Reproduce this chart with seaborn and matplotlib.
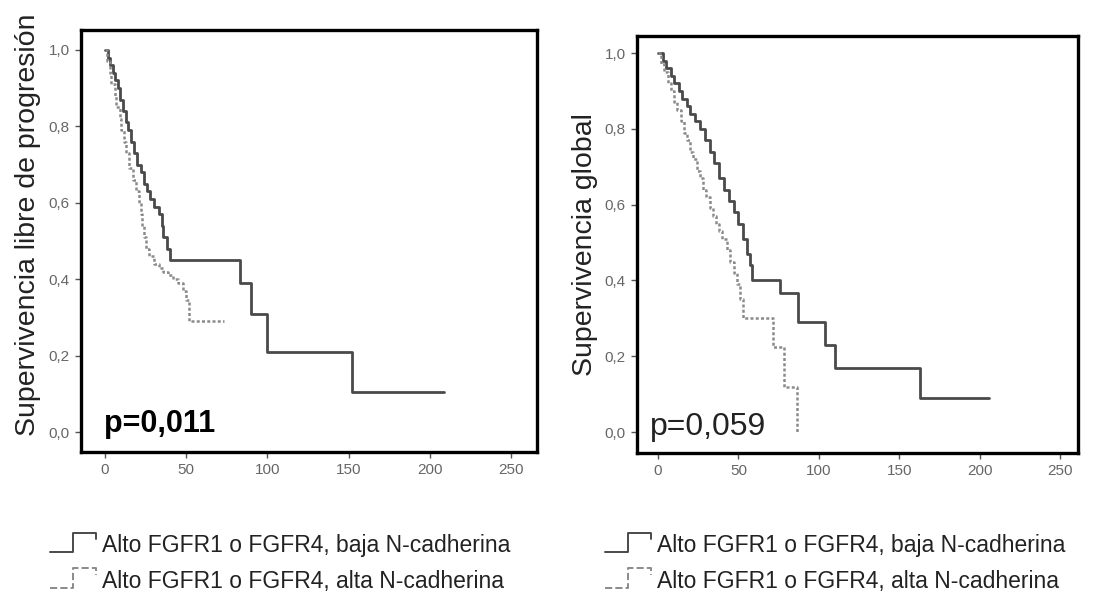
import matplotlib
matplotlib.use("Agg")
import matplotlib.pyplot as plt
import seaborn as sns
import pandas as pd
from matplotlib.lines import Line2D
from matplotlib.legend_handler import HandlerBase
from matplotlib.ticker import FuncFormatter

# Curvas de Kaplan-Meier (tiempo, supervivencia)
# Supervivencia libre de progresión
slp_baja_t = [0, 2, 3, 5, 6, 8, 9, 11, 13, 14, 16, 18, 20, 22, 24, 26, 28, 30, 33, 35, 36, 38, 40,
              83, 90, 100, 152, 209]
slp_baja_s = [1.0, 0.98, 0.96, 0.94, 0.92, 0.90, 0.87, 0.84, 0.81, 0.79, 0.76, 0.73, 0.70, 0.68, 0.65,
              0.63, 0.61, 0.59, 0.57, 0.54, 0.51, 0.48, 0.45, 0.39, 0.31, 0.21, 0.105, 0.105]
slp_alta_t = [0, 1, 3, 4, 6, 7, 9, 10, 12, 13, 15, 17, 19, 21, 22, 23, 24, 25, 27, 30, 33, 36, 39,
              42, 45, 48, 50, 52, 73]
slp_alta_s = [1.0, 0.97, 0.94, 0.91, 0.88, 0.85, 0.82, 0.79, 0.76, 0.73, 0.69, 0.66, 0.63, 0.60, 0.57,
              0.54, 0.51, 0.48, 0.46, 0.44, 0.43, 0.42, 0.41, 0.40, 0.39, 0.37, 0.345, 0.29, 0.29]

# Supervivencia global
sg_baja_t = [0, 3, 5, 8, 10, 13, 15, 18, 20, 23, 26, 29, 32, 35, 38, 41, 44, 47, 50, 53, 55, 57, 58.5,
             76, 87, 104, 110, 163, 206]
sg_baja_s = [1.0, 0.98, 0.96, 0.94, 0.92, 0.90, 0.88, 0.86, 0.84, 0.82, 0.80, 0.77, 0.74, 0.71, 0.67,
             0.64, 0.61, 0.58, 0.55, 0.51, 0.47, 0.44, 0.40, 0.367, 0.29, 0.23, 0.17, 0.09, 0.09]
sg_alta_t = [0, 2, 4, 6, 8, 10, 12, 14, 16, 18, 20, 22, 24, 26, 28, 30, 32, 34, 36, 38, 40, 43, 45,
             47, 49, 51, 53, 71.5, 78, 86.5]
sg_alta_s = [1.0, 0.97, 0.95, 0.92, 0.90, 0.87, 0.85, 0.82, 0.79, 0.77, 0.74, 0.72, 0.69, 0.67, 0.64,
             0.62, 0.59, 0.57, 0.55, 0.53, 0.51, 0.48, 0.45, 0.42, 0.39, 0.35, 0.30, 0.225, 0.12, 0.0]

etiquetas = ["Alto FGFR1 o FGFR4, baja N-cadherina", "Alto FGFR1 o FGFR4, alta N-cadherina"]
x_ticks = [0, 50, 100, 150, 200, 250]
y_ticks = [0.0, 0.2, 0.4, 0.6, 0.8, 1.0]

sns.set_style("white")
plt.rcParams['font.family'] = ['Liberation Sans', 'DejaVu Sans']

estilo_baja = dict(color='#4a4a4a', linewidth=2.0, linestyle='-')
estilo_alta = dict(color='#8a8a8a', linewidth=1.8, linestyle=(0, (1.2, 0.9)))


# Símbolo de leyenda con forma de escalón, como en la figura original
class HandlerEscalon(HandlerBase):
    def create_artists(self, legend, orig_handle, xdescent, ydescent, width, height, fontsize, trans):
        x0, y0 = -xdescent, -ydescent
        xs = [x0, x0 + 0.5 * width, x0 + 0.5 * width, x0 + width, x0 + width]
        ys = [y0, y0, y0 + 1.2 * height, y0 + 1.2 * height, y0 + 0.8 * height]
        linea = Line2D(xs, ys, color=orig_handle.get_color(), linewidth=1.4,
                       linestyle=orig_handle.get_linestyle(), transform=trans)
        return [linea]


fig = plt.figure(figsize=(11.12, 6.01), dpi=100)
ax1 = fig.add_axes([0.0728, 0.2479, 0.4101, 0.7022])
ax2 = fig.add_axes([0.5728, 0.2463, 0.3966, 0.6938])


def curva(ax, t, s, estilo):
    df = pd.DataFrame({'t': t, 's': s})
    sns.lineplot(data=df, x='t', y='s', ax=ax, estimator=None, sort=False,
                 drawstyle='steps-post', **estilo)


def formato(ax, xlim, ylim, ylabel, label_y):
    ax.set_xlim(*xlim)
    ax.set_ylim(*ylim)
    ax.set_xticks(x_ticks)
    ax.set_yticks(y_ticks)
    ax.yaxis.set_major_formatter(FuncFormatter(lambda v, p: f"{v:.1f}".replace('.', ',')))
    ax.tick_params(axis='both', which='major', direction='out', length=4, width=1,
                   color='#555555', labelsize=11, labelcolor='#666666', pad=4,
                   bottom=True, left=True)
    for sp in ax.spines.values():
        sp.set_visible(True)
        sp.set_color('black')
        sp.set_linewidth(2.4)
    ax.set_xlabel('')
    ax.set_ylabel(ylabel, fontsize=20.5, color='#222222')
    ax.yaxis.set_label_coords(-0.088, label_y)


curva(ax1, slp_baja_t, slp_baja_s, estilo_baja)
curva(ax1, slp_alta_t, slp_alta_s, estilo_alta)
formato(ax1, (-14.8, 266), (-0.052, 1.052), 'Supervivencia libre de progresión', 0.538)
ax1.text(0.05, 0.03, 'p=0,011', transform=ax1.transAxes, fontsize=22, fontweight='bold',
         ha='left', va='bottom', color='black')

curva(ax2, sg_baja_t, sg_baja_s, estilo_baja)
curva(ax2, sg_alta_t, sg_alta_s, estilo_alta)
formato(ax2, (-13.1, 261), (-0.055, 1.045), 'Supervivencia global', 0.5)
ax2.text(0.03, 0.026, 'p=0,059', transform=ax2.transAxes, fontsize=23,
         ha='left', va='bottom', color='#222222')

handles = [Line2D([], [], **estilo_baja), Line2D([], [], **estilo_alta)]
for x0 in (50 / 1112, 605 / 1112):
    fig.legend(handles, etiquetas, loc='upper left', bbox_to_anchor=(x0, 1 - 534 / 601),
               bbox_transform=fig.transFigure, frameon=False, fontsize=16.5,
               handlelength=2.0, handletextpad=0.25, labelspacing=0.55, borderpad=0,
               borderaxespad=0, labelcolor='#222222',
               handler_map={Line2D: HandlerEscalon()})

fig.savefig("out.png", dpi=100)
